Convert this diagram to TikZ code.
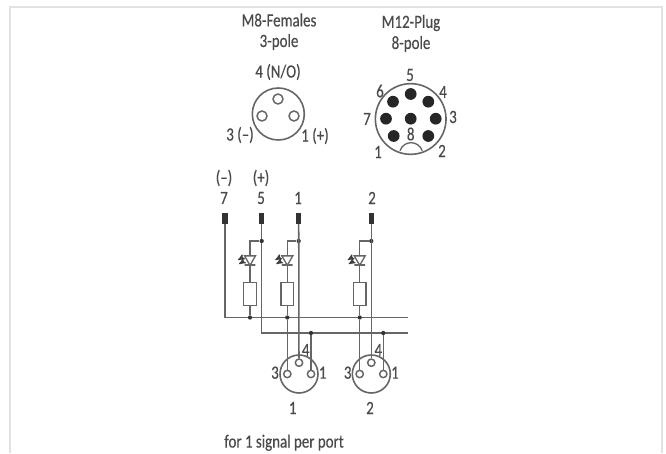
\documentclass[tikz,border=0pt]{standalone}
\usepackage{fontspec}
\setmainfont[FakeStretch=0.8,FakeBold=0.4]{Carlito}
\usetikzlibrary{positioning, arrows, shapes}
\definecolor{inkgray}{HTML}{4A4A4A}
\definecolor{wiregray}{HTML}{666666}
\definecolor{framegray}{HTML}{E2E2E2}
\tikzset{
  lbl/.style={inner sep=0pt, text=inkgray, font=\fontsize{14}{15}\selectfont},
  wire/.style={draw=wiregray, line width=1.15pt},
  bigcirc/.style={circle, draw=wiregray, line width=1.2pt, inner sep=0pt},
  hole/.style={circle, draw=wiregray, line width=1.1pt, inner sep=0pt, fill=white},
  pin/.style={circle, fill=black!85, inner sep=0pt, minimum size=8.8pt},
  junct/.style={circle, fill=black!80, inner sep=0pt, minimum size=3.2pt},
  term/.style={rectangle, fill=black!80, inner sep=0pt, minimum width=3.8pt, minimum height=8.2pt},
  res/.style={rectangle, draw=wiregray, line width=1pt, fill=white, inner sep=0pt, minimum width=9.5pt, minimum height=17pt},
  led/.style={regular polygon, regular polygon sides=3, shape border rotate=180, draw=wiregray, line width=1pt, inner sep=0pt, minimum size=9.5pt},
  ledbar/.style={rectangle, draw=wiregray, line width=1pt, inner sep=0pt, minimum width=8pt, minimum height=0pt},
  ray/.style={draw=black!75, line width=.8pt, ->, >=stealth', shorten >=0pt}
}
\begin{document}
\begin{tikzpicture}[x=.75pt, y=-.75pt]
  \useasboundingbox (0,0) rectangle (666,453);
  % frame, open at the bottom
  \coordinate (fa) at (10,453);
  \coordinate (fb) at (10,7);
  \coordinate (fc) at (662,7);
  \coordinate (fd) at (662,453);
  \draw[framegray, line width=1.3pt] (fa) -- (fb) -- (fc) -- (fd);

  % M8 face
  \node[lbl] (m8a) at (279,20) {M8-Females};
  \node[lbl] (m8b) at (279,42) {3-pole};
  \node[lbl] (m8top) at (278,72) {4 (N/O)};
  \node[lbl] (m8l) at (240,135) {3 (–)};
  \node[lbl] (m8r) at (315,136) {1 (+)};
  \node[bigcirc, minimum size=39pt] (m8) at (278.3,114) {};
  \node[hole, minimum size=7.5pt] (m8h4) at (278,99) {};
  \node[hole, minimum size=7.5pt] (m8h3) at (262,116) {};
  \node[hole, minimum size=7.5pt] (m8h1) at (294,116) {};

  % M12 face
  \node[lbl] (m12a) at (411,23) {M12-Plug};
  \node[lbl] (m12b) at (411,44) {8-pole};
  \node[bigcirc, minimum size=53pt] (m12) at (410.7,119) {};
  \node[pin] (p5) at (410.7,94) {};
  \node[pin] (p6) at (393,101.7) {};
  \node[pin] (p4) at (428.3,101.7) {};
  \node[pin] (p7) at (386,118.7) {};
  \node[pin] (p0) at (410.7,118.7) {};
  \node[pin] (p3) at (435.7,118.7) {};
  \node[pin] (p1) at (393.7,136) {};
  \node[pin] (p2) at (428.3,136) {};
  \coordinate (keyl) at (400,150.7);
  \coordinate (keyr) at (422.3,150.7);
  \draw[wiregray, line width=1pt] (keyl) .. controls (404,140) and (418,140) .. (keyr);
  \node[lbl] at (410,75) {5};
  \node[lbl] at (380,91) {6};
  \node[lbl] at (443,92) {4};
  \node[lbl] at (367,119) {7};
  \node[lbl] at (453,117) {3};
  \node[lbl] at (410.7,134) {8};
  \node[lbl] at (378,152) {1};
  \node[lbl] at (442,151) {2};

  % terminals
  \node[lbl] at (224,178) {(–)};
  \node[lbl] at (261,178) {(+)};
  \node[lbl] at (224,198) {7};
  \node[lbl] at (261,198) {5};
  \node[lbl] at (298,198) {1};
  \node[lbl] at (372,198) {2};
  \node[term] (t7) at (225,218.5) {};
  \node[term] (t5) at (261.7,218.5) {};
  \node[term] (t1) at (298.7,218.5) {};
  \node[term] (t2) at (371.3,218.5) {};

  % busses
  \coordinate (bus1a) at (225,317.5);
  \coordinate (bus1b) at (408,317.5);
  \coordinate (bus2a) at (261.7,333);
  \coordinate (bus2b) at (408,333);
  \draw[wire] (t7) -- (bus1a) -- (bus1b);
  \draw[wire] (t5) -- (bus2a) -- (bus2b);

  % led branches
  \node[junct] (j5) at (261.7,241) {};
  \node[junct] (j1) at (298.7,241) {};
  \node[junct] (j2) at (371.3,241) {};
  \coordinate (c5) at (250,241);
  \coordinate (c1) at (287.3,241);
  \coordinate (c2) at (359.7,241);
  \node[led] (la) at (250,259) {};
  \node[led] (lb) at (287.3,259) {};
  \node[led] (lc) at (359.7,259) {};
  \node[ledbar] (ba) at (250,265) {};
  \node[ledbar] (bb) at (287.3,265) {};
  \node[ledbar] (bc) at (359.7,265) {};
  \node[res] (ra) at (250,294) {};
  \node[res] (rb) at (287.3,294) {};
  \node[res] (rc) at (359.7,294) {};
  \node[junct] (da) at (250,317.5) {};
  \node[junct] (db) at (287.3,317.5) {};
  \node[junct] (dc) at (359.7,317.5) {};
  \draw[wire] (j5) -- (c5) -- (la.north);
  \draw[wire] (j1) -- (c1) -- (lb.north);
  \draw[wire] (j2) -- (c2) -- (lc.north);
  \draw[wire] (ba) -- (ra) (ra) -- (da);
  \draw[wire] (bb) -- (rb) (rb) -- (db);
  \draw[wire] (bc) -- (rc) (rc) -- (dc);

  % light rays
  \coordinate (raa) at (243,257);
  \coordinate (rab) at (238,260);
  \coordinate (rac) at (244,261);
  \coordinate (rad) at (239,264);
  \coordinate (rba) at (280.3,257);
  \coordinate (rbb) at (275.3,260);
  \coordinate (rbc) at (281.3,261);
  \coordinate (rbd) at (276.3,264);
  \coordinate (rca) at (352.7,257);
  \coordinate (rcb) at (347.7,260);
  \coordinate (rcc) at (353.7,261);
  \coordinate (rcd) at (348.7,264);
  \draw[ray] (raa) -- (rab);
  \draw[ray] (rac) -- (rad);
  \draw[ray] (rba) -- (rbb);
  \draw[ray] (rbc) -- (rbd);
  \draw[ray] (rca) -- (rcb);
  \draw[ray] (rcc) -- (rcd);

  % port 1
  \node[bigcirc, minimum size=28.5pt] (pa) at (299,374) {};
  \node[hole, minimum size=5.5pt] (pa4) at (299,362.7) {};
  \node[hole, minimum size=5.5pt] (pa3) at (287.3,374) {};
  \node[hole, minimum size=5.5pt] (pa1) at (311,374) {};
  \node[junct] (ea) at (311,333) {};
  \draw[wire] (t1) -- (pa4);
  \draw[wire] (db) -- (pa3);
  \draw[wire] (ea) -- (pa1);
  \node[lbl] at (305.7,350) {4};
  \node[lbl] at (275,372.7) {3};
  \node[lbl] at (322.7,372.7) {1};
  \node[lbl] at (292.7,408) {1};

  % port 2
  \node[bigcirc, minimum size=28.5pt] (pb) at (371.3,374) {};
  \node[hole, minimum size=5.5pt] (pb4) at (371.3,362.7) {};
  \node[hole, minimum size=5.5pt] (pb3) at (359.7,374) {};
  \node[hole, minimum size=5.5pt] (pb1) at (383.3,374) {};
  \node[junct] (eb) at (383.3,333) {};
  \draw[wire] (t2) -- (pb4);
  \draw[wire] (dc) -- (pb3);
  \draw[wire] (eb) -- (pb1);
  \node[lbl] at (378.3,350) {4};
  \node[lbl] at (347.7,372.7) {3};
  \node[lbl] at (395,372.7) {1};
  \node[lbl] at (370,408) {2};

  \node[lbl, anchor=west] at (224,442.7) {for 1 signal per port};
\end{tikzpicture}
\end{document}
